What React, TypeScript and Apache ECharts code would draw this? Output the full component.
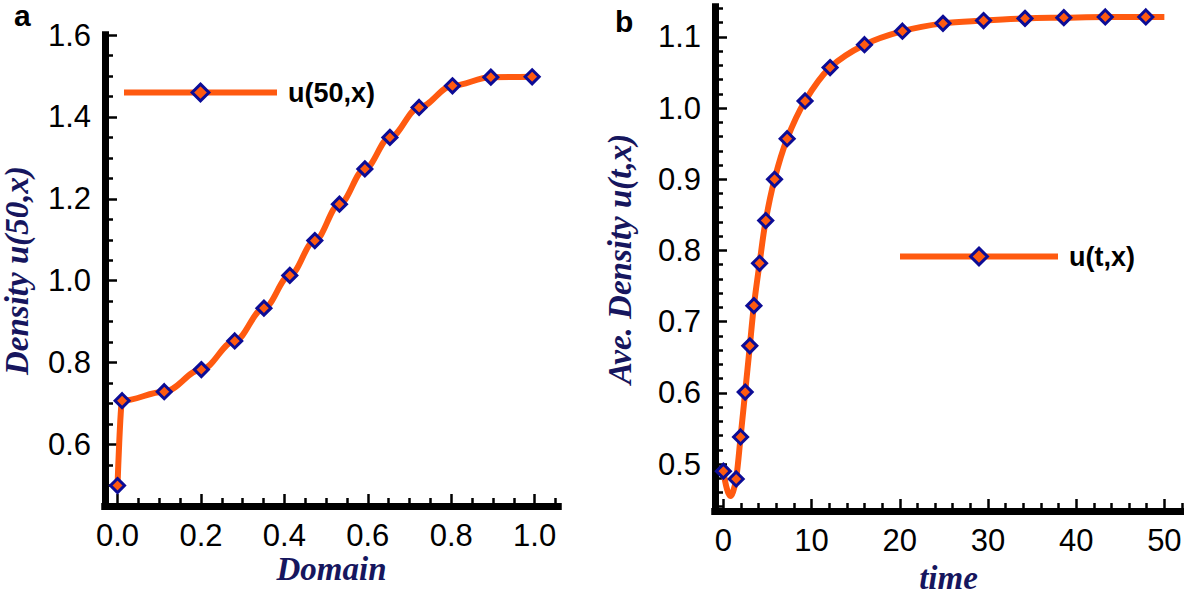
import React, { useEffect, useRef } from "react";
import * as echarts from "echarts";

// ---- Panel a: u(50,x) over the domain ----
const leftX = [0.0, 0.011, 0.112, 0.201, 0.281, 0.351, 0.413, 0.473, 0.532, 0.593, 0.653, 0.723, 0.803, 0.895, 0.994];
const leftY = [0.5, 0.707, 0.729, 0.783, 0.853, 0.933, 1.013, 1.098, 1.187, 1.273, 1.35, 1.423, 1.476, 1.497, 1.498];

// ---- Panel b: average density over time ----
const rightT = [0.0, 1.45, 1.95, 2.47, 3.0, 3.46, 4.1, 4.8, 5.8, 7.23, 9.26, 12.1, 16.0, 20.3, 24.9, 29.5, 34.2, 38.6, 43.3, 47.9];
const rightY = [0.49, 0.479, 0.538, 0.601, 0.666, 0.7225, 0.782, 0.842, 0.9, 0.957, 1.01, 1.057, 1.089, 1.108, 1.119, 1.123, 1.126, 1.127, 1.128, 1.128];
// points of the curve that carry no marker (dip near t≈1 and the tail)
const rightCurveT = [0.4, 0.8, 1.1, 50];
const rightCurveY = [0.465, 0.455, 0.461, 1.128];

// ---- tick labels ----
const leftXTicks = [0, 0.2, 0.4, 0.6, 0.8, 1.0];
const leftYTicks = [0.6, 0.8, 1.0, 1.2, 1.4, 1.6];
const rightXTicks = [0, 10, 20, 30, 40, 50];
const rightYTicks = [0.5, 0.6, 0.7, 0.8, 0.9, 1.0, 1.1];

const LINE = "#ff5a10";
const EDGE = "#0c0c96";
const NAVY = "#16165e";
const SANS = "'Liberation Sans', Arial, Helvetica, sans-serif";
const SERIF = "'Liberation Serif', 'Times New Roman', serif";

function minorTicks(from: number, to: number, step: number, majorStep: number) {
  const out: number[] = [];
  const n = Math.round((to - from) / step);
  for (let i = 0; i <= n; i++) {
    const v = Math.round((from + i * step) * 1000) / 1000;
    const r = v / majorStep;
    if (Math.abs(r - Math.round(r)) > 1e-6) out.push(v);
  }
  return out;
}

export default function App() {
  const ref = useRef<HTMLDivElement>(null);
  useEffect(() => {
    if (!ref.current) return;
    const chart = echarts.init(ref.current, undefined, { renderer: "svg" });

    const leftData = leftX.map((x, i) => [x, leftY[i]]);
    const rightItems: any[] = [
      ...rightT.map((t, i) => ({ value: [t, rightY[i]] })),
      ...rightCurveT.map((t, i) => ({ value: [t, rightCurveY[i]], symbol: "none" })),
    ].sort((a, b) => a.value[0] - b.value[0]);

    const tickLabel = { color: "#000", fontFamily: SANS, fontSize: 31 };
    const axisName = { color: NAVY, fontFamily: SERIF, fontSize: 33, fontWeight: "bold", fontStyle: "italic" };
    const mkAxisLine = () => ({ show: true, onZero: false, lineStyle: { color: "#000", width: 7, cap: "square" } });
    const majorTick = (vals: number[]) => ({ show: true, inside: true, length: 12, lineStyle: { color: "#000", width: 2.5 }, customValues: vals });
    const minorTick = (vals: number[]) => ({ show: true, inside: true, length: 8, lineStyle: { color: "#000", width: 2.5 }, customValues: vals });

    const L = { xmin: -0.03, xmax: 1.056, ymin: 0.45, ymax: 1.6 };
    const R = { xmin: -0.95, xmax: 52, ymin: 0.434, ymax: 1.142 };

    const option: any = {
      animation: false,
      backgroundColor: "#fff",
      grid: [
        { left: 105, top: 35, width: 453, height: 471, outerBoundsMode: "none", containLabel: false },
        { left: 715, top: 7, width: 467, height: 504, outerBoundsMode: "none", containLabel: false },
      ],
      xAxis: [
        {
          type: "value", gridIndex: 0, position: "bottom", min: L.xmin, max: L.xmax,
          axisLine: mkAxisLine(), axisTick: majorTick(leftXTicks), splitLine: { show: false },
          axisLabel: { ...tickLabel, margin: 14, customValues: leftXTicks, formatter: (v: number) => v.toFixed(1) },
          name: "Domain", nameLocation: "middle", nameGap: 46, nameMoveOverlap: false, nameTextStyle: axisName,
        },
        {
          type: "value", gridIndex: 0, position: "bottom", min: L.xmin, max: L.xmax,
          axisLine: mkAxisLine(), axisTick: minorTick(minorTicks(0, 1.05, 0.05, 0.2)),
          axisLabel: { show: false }, splitLine: { show: false },
        },
        {
          type: "value", gridIndex: 1, position: "bottom", min: R.xmin, max: R.xmax,
          axisLine: mkAxisLine(), axisTick: majorTick(rightXTicks), splitLine: { show: false },
          axisLabel: { ...tickLabel, margin: 14, customValues: rightXTicks, formatter: (v: number) => String(Math.round(v)) },
          name: "time", nameLocation: "middle", nameGap: 50, nameMoveOverlap: false, nameTextStyle: axisName,
        },
        {
          type: "value", gridIndex: 1, position: "bottom", min: R.xmin, max: R.xmax,
          axisLine: mkAxisLine(), axisTick: minorTick(minorTicks(0, 52, 2, 10)),
          axisLabel: { show: false }, splitLine: { show: false },
        },
      ],
      yAxis: [
        {
          type: "value", gridIndex: 0, position: "left", min: L.ymin, max: L.ymax,
          axisLine: mkAxisLine(), axisTick: majorTick(leftYTicks), splitLine: { show: false },
          axisLabel: { ...tickLabel, margin: 14, customValues: leftYTicks, formatter: (v: number) => v.toFixed(1) },
          name: "Density u(50,x)", nameLocation: "middle", nameGap: 72, nameMoveOverlap: false, nameRotate: 90, nameTextStyle: axisName,
        },
        {
          type: "value", gridIndex: 0, position: "left", min: L.ymin, max: L.ymax,
          axisLine: mkAxisLine(), axisTick: minorTick(minorTicks(0.5, 1.55, 0.05, 0.2)),
          axisLabel: { show: false }, splitLine: { show: false },
        },
        {
          type: "value", gridIndex: 1, position: "left", min: R.ymin, max: R.ymax,
          axisLine: mkAxisLine(), axisTick: majorTick(rightYTicks), splitLine: { show: false },
          axisLabel: { ...tickLabel, margin: 14, customValues: rightYTicks, formatter: (v: number) => v.toFixed(1) },
          name: "Ave. Density u(t,x)", nameLocation: "middle", nameGap: 79, nameMoveOverlap: false, nameRotate: 90, nameTextStyle: axisName,
        },
        {
          type: "value", gridIndex: 1, position: "left", min: R.ymin, max: R.ymax,
          axisLine: mkAxisLine(), axisTick: minorTick(minorTicks(0.44, 1.14, 0.02, 0.1)),
          axisLabel: { show: false }, splitLine: { show: false },
        },
      ],
      legend: [
        {
          data: ["u(50,x)"], left: 121, top: 79, padding: 0, itemWidth: 153, itemHeight: 21,
          lineStyle: { width: 6, color: LINE }, itemStyle: { color: LINE, borderColor: EDGE, borderWidth: 3 },
          textStyle: { color: "#000", fontFamily: SANS, fontSize: 27, fontWeight: "bold", lineHeight: 21, padding: [0, 0, 0, 6] },
        },
        {
          data: ["u(t,x)"], left: 897, top: 243, padding: 0, itemWidth: 158, itemHeight: 21,
          lineStyle: { width: 6, color: LINE }, itemStyle: { color: LINE, borderColor: EDGE, borderWidth: 3 },
          textStyle: { color: "#000", fontFamily: SANS, fontSize: 27, fontWeight: "bold", lineHeight: 21, padding: [0, 0, 0, 6] },
        },
      ],
      series: [
        {
          name: "u(50,x)", type: "line", xAxisIndex: 0, yAxisIndex: 0, data: leftData,
          smooth: 0.35, smoothMonotone: "x", symbol: "diamond", symbolSize: 14, showAllSymbol: true,
          lineStyle: { color: LINE, width: 6 },
          itemStyle: { color: LINE, borderColor: EDGE, borderWidth: 3 },
        },
        {
          name: "u(t,x)", type: "line", xAxisIndex: 2, yAxisIndex: 2, data: rightItems,
          smooth: 0.35, symbol: "diamond", symbolSize: 14, showAllSymbol: true,
          lineStyle: { color: LINE, width: 6 },
          itemStyle: { color: LINE, borderColor: EDGE, borderWidth: 3 },
        },
      ],
      graphic: [
        { type: "text", x: 14, y: 15, style: { text: "a", font: `bold 30px ${SANS}`, fill: "#000", verticalAlign: "middle" } },
        { type: "text", x: 615, y: 21, style: { text: "b", font: `bold 30px ${SANS}`, fill: "#000", verticalAlign: "middle" } },
      ],
    };
    chart.setOption(option);
    return () => chart.dispose();
  }, []);
  return <div ref={ref} style={{ position: "fixed", left: 0, top: 0, width: 1184, height: 594, background: "#fff" }} />;
}
